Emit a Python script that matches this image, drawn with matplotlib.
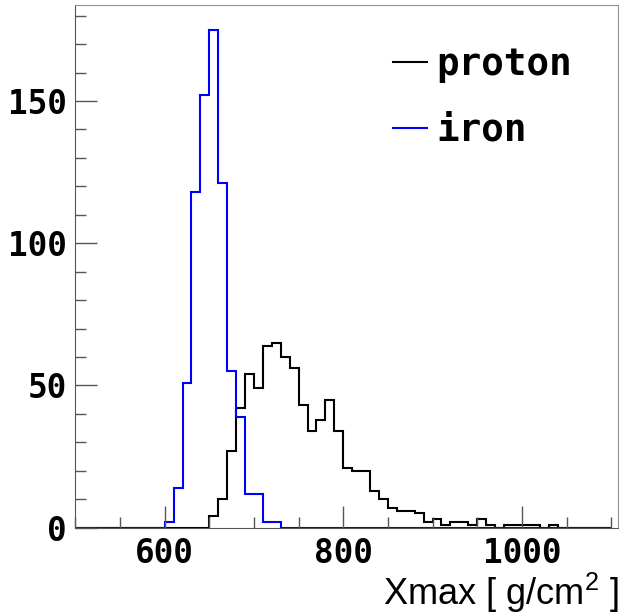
import numpy as np
import matplotlib
matplotlib.use("Agg")
import matplotlib.pyplot as plt
from matplotlib.ticker import MultipleLocator

plt.rcParams['mathtext.fontset'] = 'custom'
plt.rcParams['mathtext.rm'] = 'Liberation Sans'

# Xmax histograms, 10 g/cm2 bins starting at 500
bin_width = 10
x_lo = 500
iron_start = 600
iron_counts = [2, 14, 51, 118, 152, 175, 121, 55, 39, 12, 12, 2, 2]
proton_start = 650
proton_counts = [4, 10, 27, 42, 54, 49, 64, 65, 60, 56, 43, 34, 38, 45, 34,
                 21, 20, 20, 13, 10, 7, 6, 6, 5, 2, 3, 1, 2, 2, 1, 3, 1, 0,
                 1, 1, 1, 1, 0, 1]
n_bins = 60


def full_hist(start, counts):
    h = np.zeros(n_bins)
    i0 = (start - x_lo) // bin_width
    h[i0:i0 + len(counts)] = counts
    return h


edges = x_lo + bin_width * np.arange(n_bins + 1)
proton = full_hist(proton_start, proton_counts)
iron = full_hist(iron_start, iron_counts)

fig = plt.figure(figsize=(6.19, 6.15), dpi=100)
ax = fig.add_axes([0.1217, 0.142, 0.8772, 0.8499])

ax.stairs(proton, edges, color='black', lw=1.5, label='proton')
ax.stairs(iron, edges, color='#0000ff', lw=1.5, label='iron')

ax.set_xlim(500, 1108)
ax.set_ylim(0, 1.05 * max(iron.max(), proton.max()))

ax.xaxis.set_major_locator(MultipleLocator(200))
ax.xaxis.set_minor_locator(MultipleLocator(50))
ax.yaxis.set_major_locator(MultipleLocator(50))
ax.yaxis.set_minor_locator(MultipleLocator(10))
ax.tick_params(which='both', direction='in', colors='#555555', width=1.0,
               top=False, right=False)
ax.tick_params(which='major', length=16)
ax.tick_params(which='minor', length=8)
ax.tick_params(axis='x', pad=7)
ax.tick_params(axis='y', pad=6)
for lab in ax.get_xticklabels() + ax.get_yticklabels():
    lab.set_fontfamily('DejaVu Sans Mono')
    lab.set_fontweight('bold')
    lab.set_fontsize(23.5)
    lab.set_color('black')

for s in ['top', 'right']:
    ax.spines[s].set_color('#909090')
for s in ['left', 'bottom']:
    ax.spines[s].set_color('#555555')

ax.set_xlabel('Xmax [ g/cm$^{2}$ ]', family='Liberation Sans', fontsize=26,
              loc='right', labelpad=0)

ax.legend(loc='upper left', bbox_to_anchor=(0.585, 0.92), frameon=False,
          prop={'family': 'DejaVu Sans Mono', 'weight': 'bold', 'size': 27},
          handlelength=0.9, handletextpad=0.25, labelspacing=0.8,
          borderaxespad=0, borderpad=0)

fig.savefig('out.png', dpi=100)
